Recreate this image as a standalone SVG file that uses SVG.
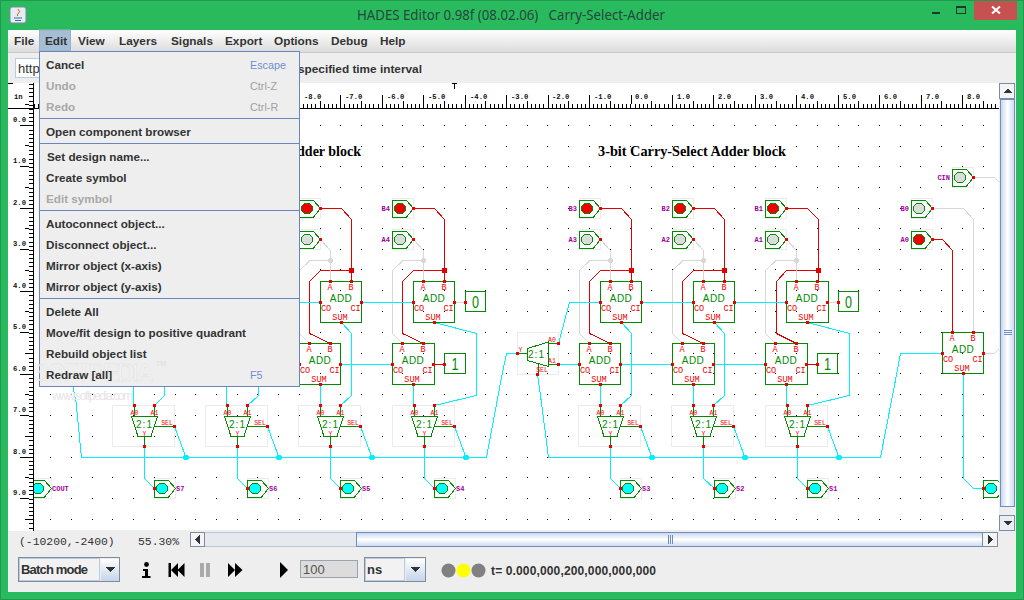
<svg xmlns="http://www.w3.org/2000/svg" width="1024" height="600" viewBox="0 0 1024 600">
<style>
text{font-family:"Liberation Sans",Arial,sans-serif}
.c{shape-rendering:crispEdges}
.wr,.wc,.wg,.st{fill:none;stroke-width:1}
.wr{stroke:#e00000}.wc{stroke:#00f0ff}.wg{stroke:#d8d8d8}.st{stroke:#008a00}
.bb{fill:none;stroke:#ececec;stroke-width:1}
.bx{fill:#fff;stroke:#008a00;stroke-width:1}
.bn{fill:none;stroke:#008a00;stroke-width:1}
.pr{fill:#e80000}
.jr{fill:#e00000}.jc{fill:#00f0ff}.jg{fill:#d8d8d8}
.on{fill:#f00000;stroke:#008a00}.off{fill:#dcdcdc;stroke:#008a00}.out{fill:#00ffff;stroke:#008a00}
.tg{fill:#008a00;font-size:10px;text-anchor:middle;letter-spacing:.4px}
.tm{fill:#008a00;font-size:10px;text-anchor:middle;letter-spacing:1px}
.tc{fill:#008a00;font-size:17px;text-anchor:middle;font-weight:400}
.tr{fill:#f00000;font-family:"Liberation Mono",monospace;font-size:8.500px;text-anchor:middle}
.ts{fill:#f00000;font-family:"Liberation Mono",monospace;font-size:6.500px;text-anchor:middle}
.tp{fill:#a000a0;font-family:"Liberation Mono",monospace;font-size:7px;font-weight:700}
.ru{font-family:"Liberation Mono",monospace;font-size:7.200px;font-weight:700;fill:#111}
.mb{font-size:11.800px;font-weight:700;fill:#333}
.mi{font-size:11.700px;font-weight:700;fill:#333}
.md{font-size:11.700px;font-weight:700;fill:#a8a8a8}
.ks{font-size:10.800px;fill:#6e8fd0}
.kd{font-size:10.800px;fill:#a0a0a0}
.ttl{font-family:"Noto Sans",sans-serif;font-size:14px;fill:#23483a}
.hd{font-family:"Liberation Serif",serif;font-weight:700;font-size:14px;fill:#000}
.st1{font-family:"Liberation Mono",monospace;font-size:11.400px;fill:#333}
.sep{stroke:#6a84bd;stroke-width:1}
.ticks{fill:none;stroke:#000}
</style>
<defs>
<linearGradient id="mbg" x1="0" y1="0" x2="0" y2="1"><stop offset="0" stop-color="#fff"/><stop offset="1" stop-color="#dcdcdc"/></linearGradient>
<linearGradient id="vth" x1="0" y1="0" x2="1" y2="0"><stop offset="0" stop-color="#c6d5ea"/><stop offset=".5" stop-color="#fff"/><stop offset="1" stop-color="#cbd9ec"/></linearGradient>
<linearGradient id="hth" x1="0" y1="0" x2="0" y2="1"><stop offset="0" stop-color="#c6d5ea"/><stop offset=".5" stop-color="#fff"/><stop offset="1" stop-color="#cbd9ec"/></linearGradient>
<linearGradient id="btnv" x1="0" y1="0" x2="0" y2="1"><stop offset="0" stop-color="#fff"/><stop offset="1" stop-color="#c6d5ea"/></linearGradient>
<path id="addpins" d="M-1 20h3v3h-3zM40 20h3v3h-3zM20 40h3v3h-3zM9 -1h3v3h-3zM30 -1h3v3h-3z" class="pr"/>
<path id="muxpins" d="M-11.500 -1h3v3h-3zM8.500 -1h3v3h-3zM-1.500 40h3v3h-3zM28.500 20h3v3h-3z" class="pr"/>
</defs>

<rect width="1024" height="600" fill="#2aba5e"/>
<rect x=".5" y=".5" width="1023" height="599" fill="none" stroke="#1f9a4e"/>
<rect x="8" y="30" width="1008" height="562" fill="#eee"/>
<rect x="8" y="30" width="1008" height="22" fill="url(#mbg)"/>
<rect x="8" y="52" width="1008" height="1" fill="#c8c8c8"/>

<g id="titlebar">
<rect x="10" y="7" width="16" height="16" rx="2" fill="#e6ecf4" stroke="#7a8a9a"/>
<path d="M14 18h8M15 20.500h6" stroke="#3a6ea0" fill="none"/><path d="M18 9q3 3 0 5-2 1 0 2" stroke="#d8601a" fill="none"/>
<text class="ttl" x="357" y="20" textLength="308" lengthAdjust="spacingAndGlyphs" xml:space="preserve">HADES Editor 0.98f (08.02.06)   Carry-Select-Adder</text>
<rect x="932" y="12" width="8" height="2" fill="#1b3a2b"/>
<rect x="956.500" y="6.500" width="9" height="7" fill="none" stroke="#1b3a2b"/><rect x="956" y="6" width="10" height="2" fill="#1b3a2b"/>
<rect x="974" y="1" width="43" height="19" fill="#c75050"/>
<path d="M992 6.500l8 7M1000 6.500l-8 7" stroke="#fff" stroke-width="2" fill="none"/>
</g>

<g id="menubar">
<rect x="39.500" y="30" width="31" height="21" fill="#a6bdd6" stroke="#9ab0c8"/>
<text class="mb" x="14" y="45">File</text>
<text class="mb" x="45" y="45">Edit</text>
<text class="mb" x="78" y="45">View</text>
<text class="mb" x="119" y="45">Layers</text>
<text class="mb" x="171" y="45">Signals</text>
<text class="mb" x="225" y="45">Export</text>
<text class="mb" x="274" y="45">Options</text>
<text class="mb" x="331" y="45">Debug</text>
<text class="mb" x="380" y="45">Help</text>
</g>

<g id="toolbar">
<rect x="15.500" y="58.500" width="60" height="19" fill="#fff" stroke="#b8cde4"/>
<text x="18" y="73" font-size="13" fill="#333">http:</text>
<text class="mb" x="298" y="73">specified time interval</text>
</g>

<rect x="34" y="83" width="965" height="447" fill="#fff"/>

<path id="griddots" class="c" fill="none" stroke="#000" stroke-dasharray="1 19.72" d="M50.200 125.500H999M50.200 146.500H999M50.200 166.500H999M50.200 187.500H999M50.200 208.500H999M50.200 228.500H999M50.200 249.500H999M50.200 269.500H999M50.200 290.500H999M50.200 311.500H999M50.200 332.500H999M50.200 353.500H999M50.200 373.500H999M50.200 394.500H999M50.200 415.500H999M50.200 436.500H999M50.200 457.500H999M50.200 477.500H999M50.200 498.500H999M50.200 519.500H999"/>

<g id="connectors" class="c">
<path class="wr" d="M320.500 208.500H341.500L351.500 219.500V281.500M351.500 270.500H320.500L309.500 281.500V333.500L330.500 343.500"/>
<path class="wr" d="M413.500 208.500H434.500L444.500 219.500V281.500M444.500 270.500H413.500L402.500 281.500V333.500L423.500 343.500"/>
<path class="wr" d="M600.500 208.500H621.500L631.500 219.500V281.500M631.500 270.500H600.500L589.500 281.500V333.500L610.500 343.500"/>
<path class="wr" d="M693.500 208.500H714.500L724.500 219.500V281.500M724.500 270.500H693.500L682.500 281.500V333.500L703.500 343.500"/>
<path class="wr" d="M786.500 208.500H807.500L818.500 219.500V281.500M818.500 270.500H786.500L776.500 281.500V333.500L796.500 343.500"/>
<path class="wr" d="M931.500 239.500H942.500L952.500 250.500V332.500"/>
<path class="wr" d="M434.500 364.500H444.500M807.500 364.500H817.500"/>
<path class="wg" d="M320.500 239.500L330.500 250.500V281.500M330.500 260.500H310L299.500 270.500V333.500L309.500 343.500"/>
<path class="wg" d="M413.500 239.500L423.500 250.500V281.500M423.500 260.500H403L392.500 270.500V333.500L402.500 343.500"/>
<path class="wg" d="M600.500 239.500L610.500 250.500V281.500M610.500 260.500H590L579.500 270.500V333.500L589.500 343.500"/>
<path class="wg" d="M693.500 239.500L703.500 250.500V281.500M703.500 260.500H683L672.500 270.500V333.500L682.500 343.500"/>
<path class="wg" d="M786.500 239.500L796.500 250.500V281.500M796.500 260.500H776L765.500 270.500V333.500L775.500 343.500"/>
<path class="wg" d="M931.500 208.500H963.500L973.500 219.500V332.500M973.500 177.500H994.500L999 182M984 353.500H994.500L999 349"/>
<path class="wg" d="M455 302.500H465.500M828.500 302.500H838.500"/>
<path class="wc" d="M300 302.500H320.500M362 302.500H413.500M558.500 343.500L569.500 302.500H600.500M642 302.500H693.500M735 302.500H786.500"/>
<path class="wc" d="M341 364.500H392.500M558.500 364.500H579.500M621 364.500H672.500M714 364.500H765.500"/>
<path class="wc" d="M341.500 322.500L351.500 333.500V395.500L340.500 405.500M434.500 322.500L476.500 333.500V395.500L434.500 405.500M621.500 322.500L631.500 333.500V395.500L620.500 405.500M714.500 322.500L724.500 333.500V395.500L713.500 405.500M807.500 322.500L849.500 333.500V395.500L807.500 405.500"/>
<path class="wc" d="M320.500 385V405.500M413.500 385V405.500M600.500 385V405.500M693.500 385V405.500M786.500 385V405.500"/>
<path class="wc" d="M133.500 387V405.500M164.500 387V395.500L154.500 405.500M227 387L226.500 405.500M258.500 387V395.500L247.500 405.500"/>
<path class="wc" d="M144.500 447V478.500L154.500 488.500M237.500 447V478.500L247.500 488.500M330.500 447V478.500L340.500 488.500M424.500 447V478.500L434.500 488.500M610.500 447V478.500L620.500 488.500M703.500 447V478.500L714.500 488.500M797.500 447V478.500L807.500 488.500"/>
<path class="wc" d="M517.500 353.500H506.500L501 380L486.500 457.500H81.500L76 402L73 387"/>
<path class="wc" d="M537.500 374L541.500 403L548.500 457.500H880.500L895.500 380L900.500 353.500H942.500"/>
<path class="wc" d="M174.500 426.500L186 457.500M267.500 426.500L279 457.500M360.500 426.500L372 457.500M454.500 426.500L466 457.500M640.500 426.500L652 457.500M733.500 426.500L745 457.500M827.500 426.500L839 457.500"/>
<path class="wc" d="M963.500 374V478.500L973.500 488.500H983.500"/>
<g class="jc"><circle cx="186" cy="457.500" r="3"/><circle cx="279" cy="457.500" r="3"/><circle cx="372" cy="457.500" r="3"/><circle cx="466" cy="457.500" r="3"/><circle cx="652" cy="457.500" r="3"/><circle cx="745" cy="457.500" r="3"/><circle cx="839" cy="457.500" r="3"/></g>
<g class="jr"><circle cx="351.500" cy="270.500" r="3"/><circle cx="444.500" cy="270.500" r="3"/><circle cx="631.500" cy="270.500" r="3"/><circle cx="724.500" cy="270.500" r="3"/><circle cx="818.500" cy="270.500" r="3"/></g>
<g class="jg"><circle cx="330.500" cy="260.500" r="2.500"/><circle cx="423.500" cy="260.500" r="2.500"/><circle cx="610.500" cy="260.500" r="2.500"/><circle cx="703.500" cy="260.500" r="2.500"/><circle cx="796.500" cy="260.500" r="2.500"/></g>
</g>

<g id="adder-t1" class="c" transform="translate(320,281)"><rect class="bn" x=".5" y=".5" width="41" height="41"/><use href="#addpins"/><text class="tg" x="21" y="21">ADD</text><text class="tr" x="10" y="9">A</text><text class="tr" x="31" y="9">B</text><text class="tr" x="6" y="30">CO</text><text class="tr" x="35.500" y="30">CI</text><text class="tr" x="20" y="39">SUM</text></g>
<g id="adder-t2" class="c" transform="translate(413,281)"><rect class="bn" x=".5" y=".5" width="41" height="41"/><use href="#addpins"/><text class="tg" x="21" y="21">ADD</text><text class="tr" x="10" y="9">A</text><text class="tr" x="31" y="9">B</text><text class="tr" x="6" y="30">CO</text><text class="tr" x="35.500" y="30">CI</text><text class="tr" x="20" y="39">SUM</text></g>
<g id="adder-t3" class="c" transform="translate(600,281)"><rect class="bn" x=".5" y=".5" width="41" height="41"/><use href="#addpins"/><text class="tg" x="21" y="21">ADD</text><text class="tr" x="10" y="9">A</text><text class="tr" x="31" y="9">B</text><text class="tr" x="6" y="30">CO</text><text class="tr" x="35.500" y="30">CI</text><text class="tr" x="20" y="39">SUM</text></g>
<g id="adder-t4" class="c" transform="translate(693,281)"><rect class="bn" x=".5" y=".5" width="41" height="41"/><use href="#addpins"/><text class="tg" x="21" y="21">ADD</text><text class="tr" x="10" y="9">A</text><text class="tr" x="31" y="9">B</text><text class="tr" x="6" y="30">CO</text><text class="tr" x="35.500" y="30">CI</text><text class="tr" x="20" y="39">SUM</text></g>
<g id="adder-t5" class="c" transform="translate(786,281)"><rect class="bn" x=".5" y=".5" width="42" height="41"/><use href="#addpins"/><text class="tg" x="21" y="21">ADD</text><text class="tr" x="10" y="9">A</text><text class="tr" x="31" y="9">B</text><text class="tr" x="6" y="30">CO</text><text class="tr" x="35.500" y="30">CI</text><text class="tr" x="20" y="39">SUM</text></g>
<g id="adder-l1" class="c" transform="translate(299,343)"><rect class="bn" x=".5" y=".5" width="41" height="41"/><use href="#addpins"/><text class="tg" x="21" y="21">ADD</text><text class="tr" x="10" y="9">A</text><text class="tr" x="31" y="9">B</text><text class="tr" x="6" y="30">CO</text><text class="tr" x="35.500" y="30">CI</text><text class="tr" x="20" y="39">SUM</text></g>
<g id="adder-l2" class="c" transform="translate(392,343)"><rect class="bn" x=".5" y=".5" width="42" height="41"/><use href="#addpins"/><text class="tg" x="21" y="21">ADD</text><text class="tr" x="10" y="9">A</text><text class="tr" x="31" y="9">B</text><text class="tr" x="6" y="30">CO</text><text class="tr" x="35.500" y="30">CI</text><text class="tr" x="20" y="39">SUM</text></g>
<g id="adder-l3" class="c" transform="translate(579,343)"><rect class="bn" x=".5" y=".5" width="41" height="41"/><use href="#addpins"/><text class="tg" x="21" y="21">ADD</text><text class="tr" x="10" y="9">A</text><text class="tr" x="31" y="9">B</text><text class="tr" x="6" y="30">CO</text><text class="tr" x="35.500" y="30">CI</text><text class="tr" x="20" y="39">SUM</text></g>
<g id="adder-l4" class="c" transform="translate(672,343)"><rect class="bn" x=".5" y=".5" width="42" height="41"/><use href="#addpins"/><text class="tg" x="21" y="21">ADD</text><text class="tr" x="10" y="9">A</text><text class="tr" x="31" y="9">B</text><text class="tr" x="6" y="30">CO</text><text class="tr" x="35.500" y="30">CI</text><text class="tr" x="20" y="39">SUM</text></g>
<g id="adder-l5" class="c" transform="translate(765,343)"><rect class="bn" x=".5" y=".5" width="42" height="41"/><use href="#addpins"/><text class="tg" x="21" y="21">ADD</text><text class="tr" x="10" y="9">A</text><text class="tr" x="31" y="9">B</text><text class="tr" x="6" y="30">CO</text><text class="tr" x="35.500" y="30">CI</text><text class="tr" x="20" y="39">SUM</text></g>
<g id="adder-0" class="c" transform="translate(942,332)"><rect class="bn" x=".5" y=".5" width="41" height="41"/><use href="#addpins"/><text class="tg" x="21" y="21">ADD</text><text class="tr" x="10" y="9">A</text><text class="tr" x="31" y="9">B</text><text class="tr" x="6" y="30">CO</text><text class="tr" x="35.500" y="30">CI</text><text class="tr" x="20" y="39">SUM</text></g>

<g id="const-0a" class="c"><rect class="bn" x="465.500" y="291.500" width="20" height="20"/><path class="pr" d="M464 301h3v3h-3z"/><text class="tc" x="475.500" y="307.500" textLength="7" lengthAdjust="spacingAndGlyphs">0</text></g>
<g id="const-1a" class="c"><rect class="bn" x="444.500" y="353.500" width="21" height="20"/><path class="pr" d="M443 363h3v3h-3z"/><text class="tc" x="455" y="369.500" textLength="7" lengthAdjust="spacingAndGlyphs">1</text></g>
<g id="const-0b" class="c"><rect class="bn" x="838.500" y="291.500" width="20" height="20"/><path class="pr" d="M837 301h3v3h-3z"/><text class="tc" x="848.500" y="307.500" textLength="7" lengthAdjust="spacingAndGlyphs">0</text></g>
<g id="const-1b" class="c"><rect class="bn" x="817.500" y="353.500" width="20" height="20"/><path class="pr" d="M816 363h3v3h-3z"/><text class="tc" x="827.500" y="369.500" textLength="7" lengthAdjust="spacingAndGlyphs">1</text></g>

<g id="mux-7" class="c" transform="translate(144.500,405)"><rect class="bb" x="-32" y=".5" width="62" height="41"/><path class="st" d="M-13 11.500H13L6.500 31.500H-6.500ZM0 31.500V41M10 21.500H30M-10.500 0V11.500M9.500 0V11.500"/><use href="#muxpins"/><text class="tm" x="0" y="23">2:1</text><text class="ts" x="-10" y="9.500">A0</text><text class="ts" x="10" y="9.500">A1</text><text class="ts" x="22.500" y="20">SEL</text><text class="ts" x="0" y="31">Y</text></g>
<g id="mux-6" class="c" transform="translate(237.500,405)"><rect class="bb" x="-32" y=".5" width="62" height="41"/><path class="st" d="M-13 11.500H13L6.500 31.500H-6.500ZM0 31.500V41M10 21.500H30M-10.500 0V11.500M9.500 0V11.500"/><use href="#muxpins"/><text class="tm" x="0" y="23">2:1</text><text class="ts" x="-10" y="9.500">A0</text><text class="ts" x="10" y="9.500">A1</text><text class="ts" x="22.500" y="20">SEL</text><text class="ts" x="0" y="31">Y</text></g>
<g id="mux-5" class="c" transform="translate(330.500,405)"><rect class="bb" x="-32" y=".5" width="62" height="41"/><path class="st" d="M-13 11.500H13L6.500 31.500H-6.500ZM0 31.500V41M10 21.500H30M-10.500 0V11.500M9.500 0V11.500"/><use href="#muxpins"/><text class="tm" x="0" y="23">2:1</text><text class="ts" x="-10" y="9.500">A0</text><text class="ts" x="10" y="9.500">A1</text><text class="ts" x="22.500" y="20">SEL</text><text class="ts" x="0" y="31">Y</text></g>
<g id="mux-4" class="c" transform="translate(424.500,405)"><rect class="bb" x="-32" y=".5" width="62" height="41"/><path class="st" d="M-13 11.500H13L6.500 31.500H-6.500ZM0 31.500V41M10 21.500H30M-10.500 0V11.500M9.500 0V11.500"/><use href="#muxpins"/><text class="tm" x="0" y="23">2:1</text><text class="ts" x="-10" y="9.500">A0</text><text class="ts" x="10" y="9.500">A1</text><text class="ts" x="22.500" y="20">SEL</text><text class="ts" x="0" y="31">Y</text></g>
<g id="mux-3" class="c" transform="translate(610.500,405)"><rect class="bb" x="-32" y=".5" width="62" height="41"/><path class="st" d="M-13 11.500H13L6.500 31.500H-6.500ZM0 31.500V41M10 21.500H30M-10.500 0V11.500M9.500 0V11.500"/><use href="#muxpins"/><text class="tm" x="0" y="23">2:1</text><text class="ts" x="-10" y="9.500">A0</text><text class="ts" x="10" y="9.500">A1</text><text class="ts" x="22.500" y="20">SEL</text><text class="ts" x="0" y="31">Y</text></g>
<g id="mux-2" class="c" transform="translate(703.500,405)"><rect class="bb" x="-32" y=".5" width="62" height="41"/><path class="st" d="M-13 11.500H13L6.500 31.500H-6.500ZM0 31.500V41M10 21.500H30M-10.500 0V11.500M9.500 0V11.500"/><use href="#muxpins"/><text class="tm" x="0" y="23">2:1</text><text class="ts" x="-10" y="9.500">A0</text><text class="ts" x="10" y="9.500">A1</text><text class="ts" x="22.500" y="20">SEL</text><text class="ts" x="0" y="31">Y</text></g>
<g id="mux-1" class="c" transform="translate(797.500,405)"><rect class="bb" x="-32" y=".5" width="62" height="41"/><path class="st" d="M-13 11.500H13L6.500 31.500H-6.500ZM0 31.500V41M10 21.500H30M-10.500 0V11.500M9.500 0V11.500"/><use href="#muxpins"/><text class="tm" x="0" y="23">2:1</text><text class="ts" x="-10" y="9.500">A0</text><text class="ts" x="10" y="9.500">A1</text><text class="ts" x="22.500" y="20">SEL</text><text class="ts" x="0" y="31">Y</text></g>
<g id="mux-carry" class="c"><rect class="bb" x="517.500" y="332.500" width="41" height="42"/><path class="st" d="M527.500 348.500L548.500 342V366.500L527.500 360.500ZM517.500 353.500H527.500M548.500 343.500H558.500M548.500 364.500H558.500M538.500 364V374"/><path class="pr" d="M516 352h3v3h-3zM557 342h3v3h-3zM557 363h3v3h-3zM536 373h3v3h-3z"/><text class="tm" x="536.500" y="358">2:1</text><text class="ts" x="520.500" y="352">Y</text><text class="ts" x="552" y="342">A0</text><text class="ts" x="552" y="363">A1</text><text class="ts" x="542" y="372">SEL</text></g>

<g id="in-b-1" class="c" transform="translate(299,208.500)"><rect class="bb" x=".5" y="-10" width="21" height="20"/><path class="bx" d="M.5 -8H14.500L21.500 0L14.500 8.500H.5Z"/><circle class="on" cx="8" cy="0" r="5.500"/><path class="pr" d="M20 -1.500h3v3h-3z"/></g>
<g id="in-a-1" class="c" transform="translate(299,239.500)"><rect class="bb" x=".5" y="-10" width="21" height="20"/><path class="bx" d="M.5 -8H14.500L21.500 0L14.500 8.500H.5Z"/><circle class="off" cx="8" cy="0" r="5.500"/><path class="pr" d="M20 -1.500h3v3h-3z"/></g>
<g id="in-b4" class="c" transform="translate(392,208.500)"><rect class="bb" x=".5" y="-10" width="21" height="20"/><path class="bx" d="M.5 -8H14.500L21.500 0L14.500 8.500H.5Z"/><circle class="on" cx="8" cy="0" r="5.500"/><path class="pr" d="M20 -1.500h3v3h-3z"/><text class="tp" x="-2" y="2.500" text-anchor="end">B4</text></g>
<g id="in-a4" class="c" transform="translate(392,239.500)"><rect class="bb" x=".5" y="-10" width="21" height="20"/><path class="bx" d="M.5 -8H14.500L21.500 0L14.500 8.500H.5Z"/><circle class="off" cx="8" cy="0" r="5.500"/><path class="pr" d="M20 -1.500h3v3h-3z"/><text class="tp" x="-2" y="2.500" text-anchor="end">A4</text></g>
<g id="in-b3" class="c" transform="translate(579,208.500)"><rect class="bb" x=".5" y="-10" width="21" height="20"/><path class="bx" d="M.5 -8H14.500L21.500 0L14.500 8.500H.5Z"/><circle class="on" cx="8" cy="0" r="5.500"/><path class="pr" d="M20 -1.500h3v3h-3z"/><text class="tp" x="-2" y="2.500" text-anchor="end">B3</text></g>
<g id="in-a3" class="c" transform="translate(579,239.500)"><rect class="bb" x=".5" y="-10" width="21" height="20"/><path class="bx" d="M.5 -8H14.500L21.500 0L14.500 8.500H.5Z"/><circle class="off" cx="8" cy="0" r="5.500"/><path class="pr" d="M20 -1.500h3v3h-3z"/><text class="tp" x="-2" y="2.500" text-anchor="end">A3</text></g>
<g id="in-b2" class="c" transform="translate(672,208.500)"><rect class="bb" x=".5" y="-10" width="21" height="20"/><path class="bx" d="M.5 -8H14.500L21.500 0L14.500 8.500H.5Z"/><circle class="on" cx="8" cy="0" r="5.500"/><path class="pr" d="M20 -1.500h3v3h-3z"/><text class="tp" x="-2" y="2.500" text-anchor="end">B2</text></g>
<g id="in-a2" class="c" transform="translate(672,239.500)"><rect class="bb" x=".5" y="-10" width="21" height="20"/><path class="bx" d="M.5 -8H14.500L21.500 0L14.500 8.500H.5Z"/><circle class="off" cx="8" cy="0" r="5.500"/><path class="pr" d="M20 -1.500h3v3h-3z"/><text class="tp" x="-2" y="2.500" text-anchor="end">A2</text></g>
<g id="in-b1" class="c" transform="translate(765,208.500)"><rect class="bb" x=".5" y="-10" width="21" height="20"/><path class="bx" d="M.5 -8H14.500L21.500 0L14.500 8.500H.5Z"/><circle class="on" cx="8" cy="0" r="5.500"/><path class="pr" d="M20 -1.500h3v3h-3z"/><text class="tp" x="-2" y="2.500" text-anchor="end">B1</text></g>
<g id="in-a1" class="c" transform="translate(765,239.500)"><rect class="bb" x=".5" y="-10" width="21" height="20"/><path class="bx" d="M.5 -8H14.500L21.500 0L14.500 8.500H.5Z"/><circle class="off" cx="8" cy="0" r="5.500"/><path class="pr" d="M20 -1.500h3v3h-3z"/><text class="tp" x="-2" y="2.500" text-anchor="end">A1</text></g>
<g id="in-b0" class="c" transform="translate(911,208.500)"><rect class="bb" x=".5" y="-10" width="21" height="20"/><path class="bx" d="M.5 -8H14.500L21.500 0L14.500 8.500H.5Z"/><circle class="off" cx="8" cy="0" r="5.500"/><path class="pr" d="M20 -1.500h3v3h-3z"/><text class="tp" x="-2" y="2.500" text-anchor="end">B0</text></g>
<g id="in-a0" class="c" transform="translate(911,239.500)"><rect class="bb" x=".5" y="-10" width="21" height="20"/><path class="bx" d="M.5 -8H14.500L21.500 0L14.500 8.500H.5Z"/><circle class="on" cx="8" cy="0" r="5.500"/><path class="pr" d="M20 -1.500h3v3h-3z"/><text class="tp" x="-2" y="2.500" text-anchor="end">A0</text></g>
<g id="in-cin" class="c" transform="translate(952,177.500)"><rect class="bb" x=".5" y="-10" width="21" height="20"/><path class="bx" d="M.5 -8H14.500L21.500 0L14.500 8.500H.5Z"/><circle class="off" cx="8" cy="0" r="5.500"/><path class="pr" d="M20 -1.500h3v3h-3z"/><text class="tp" x="-2" y="2.500" text-anchor="end">CIN</text></g>

<g id="out-cout" class="c" transform="translate(30,488.500)"><rect class="bb" x=".5" y="-10" width="21" height="20"/><path class="bx" d="M.5 -8H14.500L21.500 0L14.500 8.500H.5Z"/><circle class="out" cx="8" cy="0" r="5.500"/><text class="tp" x="22" y="2" font-size="6">COUT</text></g>
<g id="out-s7" class="c" transform="translate(154,488.500)"><rect class="bb" x=".5" y="-10" width="21" height="20"/><path class="bx" d="M.5 -8H14.500L21.500 0L14.500 8.500H.5Z"/><circle class="out" cx="8" cy="0" r="5.500"/><path class="pr" d="M-1 -1.500h3v3h-3z"/><text class="tp" x="22" y="2">S7</text></g>
<g id="out-s6" class="c" transform="translate(247,488.500)"><rect class="bb" x=".5" y="-10" width="21" height="20"/><path class="bx" d="M.5 -8H14.500L21.500 0L14.500 8.500H.5Z"/><circle class="out" cx="8" cy="0" r="5.500"/><path class="pr" d="M-1 -1.500h3v3h-3z"/><text class="tp" x="22" y="2">S6</text></g>
<g id="out-s5" class="c" transform="translate(340,488.500)"><rect class="bb" x=".5" y="-10" width="21" height="20"/><path class="bx" d="M.5 -8H14.500L21.500 0L14.500 8.500H.5Z"/><circle class="out" cx="8" cy="0" r="5.500"/><path class="pr" d="M-1 -1.500h3v3h-3z"/><text class="tp" x="22" y="2">S5</text></g>
<g id="out-s4" class="c" transform="translate(434,488.500)"><rect class="bb" x=".5" y="-10" width="21" height="20"/><path class="bx" d="M.5 -8H14.500L21.500 0L14.500 8.500H.5Z"/><circle class="out" cx="8" cy="0" r="5.500"/><path class="pr" d="M-1 -1.500h3v3h-3z"/><text class="tp" x="22" y="2">S4</text></g>
<g id="out-s3" class="c" transform="translate(620,488.500)"><rect class="bb" x=".5" y="-10" width="21" height="20"/><path class="bx" d="M.5 -8H14.500L21.500 0L14.500 8.500H.5Z"/><circle class="out" cx="8" cy="0" r="5.500"/><path class="pr" d="M-1 -1.500h3v3h-3z"/><text class="tp" x="22" y="2">S3</text></g>
<g id="out-s2" class="c" transform="translate(714,488.500)"><rect class="bb" x=".5" y="-10" width="21" height="20"/><path class="bx" d="M.5 -8H14.500L21.500 0L14.500 8.500H.5Z"/><circle class="out" cx="8" cy="0" r="5.500"/><path class="pr" d="M-1 -1.500h3v3h-3z"/><text class="tp" x="22" y="2">S2</text></g>
<g id="out-s1" class="c" transform="translate(807,488.500)"><rect class="bb" x=".5" y="-10" width="21" height="20"/><path class="bx" d="M.5 -8H14.500L21.500 0L14.500 8.500H.5Z"/><circle class="out" cx="8" cy="0" r="5.500"/><path class="pr" d="M-1 -1.500h3v3h-3z"/><text class="tp" x="22" y="2">S1</text></g>
<g id="out-s0" class="c" transform="translate(983,488.500)"><path class="bx" d="M.5 -8H14.500L21.500 0L14.500 8.500H.5Z"/><circle class="out" cx="8" cy="0" r="5.500"/><path class="pr" d="M-1 -1.500h3v3h-3z"/></g>

<text class="hd" x="361" y="156" text-anchor="end">dder block</text>
<text class="hd" x="598" y="156" textLength="188" lengthAdjust="spacingAndGlyphs">3-bit Carry-Select Adder block</text>

<text x="52" y="400" font-size="12" fill="#e6e6e6" textLength="81">www.softpedia.com</text>

<g id="ruler-top">
<rect x="8" y="83" width="991" height="25" fill="#fff"/>
<path class="ticks c" d="M33.600 106H999" stroke-width="4" stroke-dasharray="1 3.145"/>
<path class="ticks c" d="M70.900 102.500H999" stroke-width="3" stroke-dasharray="1 40.450"/>
<path class="ticks c" d="M50.200 99.500H999" stroke-width="9" stroke-dasharray="1 40.450"/>
<rect class="c" x="8" y="108" width="991" height="1" fill="#000"/>
<path class="c" d="M454 83.500V88.500M451.500 83.500H457" stroke="#000" fill="none"/>
<text class="ru" x="304" y="99">-8.0</text><text class="ru" x="345" y="99">-7.0</text><text class="ru" x="387" y="99">-6.0</text><text class="ru" x="428" y="99">-5.0</text><text class="ru" x="470" y="99">-4.0</text><text class="ru" x="511" y="99">-3.0</text><text class="ru" x="552" y="99">-2.0</text><text class="ru" x="594" y="99">-1.0</text><text class="ru" x="635" y="99">0.0</text><text class="ru" x="677" y="99">1.0</text><text class="ru" x="718" y="99">2.0</text><text class="ru" x="760" y="99">3.0</text><text class="ru" x="801" y="99">4.0</text><text class="ru" x="843" y="99">5.0</text><text class="ru" x="884" y="99">6.0</text><text class="ru" x="926" y="99">7.0</text><text class="ru" x="967" y="99">8.0</text>
</g>
<g id="ruler-left">
<rect x="8" y="83" width="26" height="448" fill="#fff"/>
<rect class="c" x="33" y="83" width="1" height="448" fill="#000"/>
<rect class="c" x="8" y="83" width="5" height="1" fill="#000"/>
<rect class="c" x="8" y="108" width="26" height="1" fill="#000"/>
<path class="ticks c" d="M31 84V530" stroke-width="4" stroke-dasharray="1 3.145"/>
<path class="ticks c" d="M27 104V530" stroke-width="4" stroke-dasharray="1 40.450"/>
<path class="ticks c" d="M24.500 125V530" stroke-width="9" stroke-dasharray="1 40.450"/>
<text class="ru" x="14" y="99">in</text>
<text class="ru" x="13" y="121.500">0.0</text><text class="ru" x="13" y="163">1.0</text><text class="ru" x="13" y="204.500">2.0</text><text class="ru" x="13" y="246">3.0</text><text class="ru" x="13" y="287.500">4.0</text><text class="ru" x="13" y="329">5.0</text><text class="ru" x="13" y="370.500">6.0</text><text class="ru" x="13" y="412">7.0</text><text class="ru" x="13" y="453.500">8.0</text><text class="ru" x="13" y="495">9.0</text>
</g>

<g id="scroll-v" class="c">
<rect x="999" y="83" width="17" height="448" fill="#eee"/>
<rect x="1000.500" y="99.500" width="14" height="407" fill="url(#vth)" stroke="#6f8cc4"/>
<path d="M1004 330h8M1004 332h8M1004 334h8" stroke="#6f8cc4" fill="none"/>
<rect x="999.500" y="83.500" width="15" height="15" fill="#f2f4f8" stroke="#7f8d9b"/>
<path d="M1008 88L1012.500 93H1003.500Z" fill="#333"/>
<rect x="999.500" y="515.500" width="15" height="15" fill="#e8eef6" stroke="#7f8d9b"/>
<path d="M1003.500 521H1012.500L1008 526Z" fill="#333"/>
</g>
<g id="scroll-h" class="c">
<rect x="190" y="532" width="808" height="15" fill="#e8e8e8"/>
<rect x="204.500" y="532.500" width="152" height="14" fill="#e6e9ee" stroke="#b8c6da"/>
<rect x="356.500" y="532.500" width="626" height="14" fill="url(#hth)" stroke="#6f8cc4"/>
<path d="M668 535V544M670 535V544M672 535V544" stroke="#6f8cc4" fill="none"/>
<rect x="190.500" y="532.500" width="14" height="14" fill="#f2f4f8" stroke="#7f8d9b"/>
<path d="M195 539.500L200 535V544Z" fill="#333"/>
<rect x="982.500" y="532.500" width="15" height="14" fill="#f2f4f8" stroke="#7f8d9b"/>
<path d="M992.500 539.500L988 535V544Z" fill="#333"/>
</g>

<g id="statusbar">
<text class="st1" x="19" y="545">(-10200,-2400)</text>
<text class="st1" x="138" y="545">55.30%</text>
<g class="c"><rect x="18.500" y="557.500" width="101" height="24" fill="#eee" stroke="#7f8d9b"/><rect x="19.500" y="558.500" width="80" height="22" fill="#f2f2f2" stroke="#b8cde4"/><rect x="100.500" y="558.500" width="18" height="22" fill="url(#btnv)"/><path d="M105 567H115L110 572Z" fill="#333"/></g>
<text x="21" y="574" font-size="13" font-weight="700" fill="#333" textLength="67">Batch mode</text>
<g id="btn-info"><circle cx="146.500" cy="564.500" r="2.400" fill="#000"/><path d="M143 569H148V576H150.500V578H142V576H145V571H143Z" fill="#000"/></g>
<path id="btn-rew" d="M168.500 563H171V577H168.500ZM178 563V577L171 570ZM184.500 563V577L177.500 570Z" fill="#000"/>
<path id="btn-pause" d="M200 563h4v14h-4zM206 563h4v14h-4z" fill="#aaa"/>
<path id="btn-ff" d="M228 563L235 570L228 577ZM235 563L242.500 570L235 577Z" fill="#000"/>
<path id="btn-play" d="M280 562L288 570L280 578Z" fill="#000"/>
<rect class="c" x="300.500" y="560.500" width="57" height="17" fill="#dcdcdc" stroke="#9aa4ae"/>
<text x="303" y="574" font-size="13" fill="#555">100</text>
<g class="c"><rect x="364.500" y="557.500" width="61" height="24" fill="#eee" stroke="#7f8d9b"/><rect x="365.500" y="558.500" width="39" height="22" fill="#f2f2f2" stroke="#b8cde4"/><rect x="405.500" y="558.500" width="19" height="22" fill="url(#btnv)"/><path d="M410 567H420L415 572Z" fill="#333"/></g>
<text x="367" y="574" font-size="13" font-weight="700" fill="#333">ns</text>
<circle cx="448.500" cy="570.500" r="7" fill="#808080"/><circle cx="463.500" cy="570.500" r="7" fill="#ffff00"/><circle cx="478.500" cy="570.500" r="7" fill="#808080"/>
<text x="491" y="575" font-size="12" font-weight="700" fill="#333" textLength="165">t= 0.000,000,200,000,000,000</text>
</g>

<g id="edit-menu">
<rect class="c" x="39.500" y="51.500" width="260" height="335" fill="#eee" stroke="#6a84bd"/>
<text x="33" y="381" font-family="Liberation Serif,serif" font-size="24" fill="#f8f8f8" fill-opacity=".7" stroke="#dcdcdc" stroke-width=".4" textLength="120">SOFTPEDIA</text>
<text x="156" y="366" font-size="7" fill="#dcdcdc">TM</text>
<text class="mi" x="46" y="69">Cancel</text><text class="ks" x="250" y="69">Escape</text>
<text class="md" x="46" y="90">Undo</text><text class="kd" x="250" y="90">Ctrl-Z</text>
<text class="md" x="46" y="111">Redo</text><text class="kd" x="250" y="111">Ctrl-R</text>
<path class="sep c" d="M40 118.500H299M40 143.500H299M40 210.500H299M40 298.500H299"/>
<text class="mi" x="46" y="136">Open component browser</text>
<text class="mi" x="47" y="161">Set design name...</text>
<text class="mi" x="46" y="182">Create symbol</text>
<text class="md" x="46" y="203">Edit symbol</text>
<text class="mi" x="46" y="228">Autoconnect object...</text>
<text class="mi" x="46" y="249">Disconnect object...</text>
<text class="mi" x="46" y="270">Mirror object (x-axis)</text>
<text class="mi" x="46" y="291">Mirror object (y-axis)</text>
<text class="mi" x="46" y="316">Delete All</text>
<text class="mi" x="46" y="337">Move/fit design to positive quadrant</text>
<text class="mi" x="46" y="358">Rebuild object list</text>
<text class="mi" x="46" y="379">Redraw [all]</text><text class="ks" x="250" y="379">F5</text>
</g>
</svg>
